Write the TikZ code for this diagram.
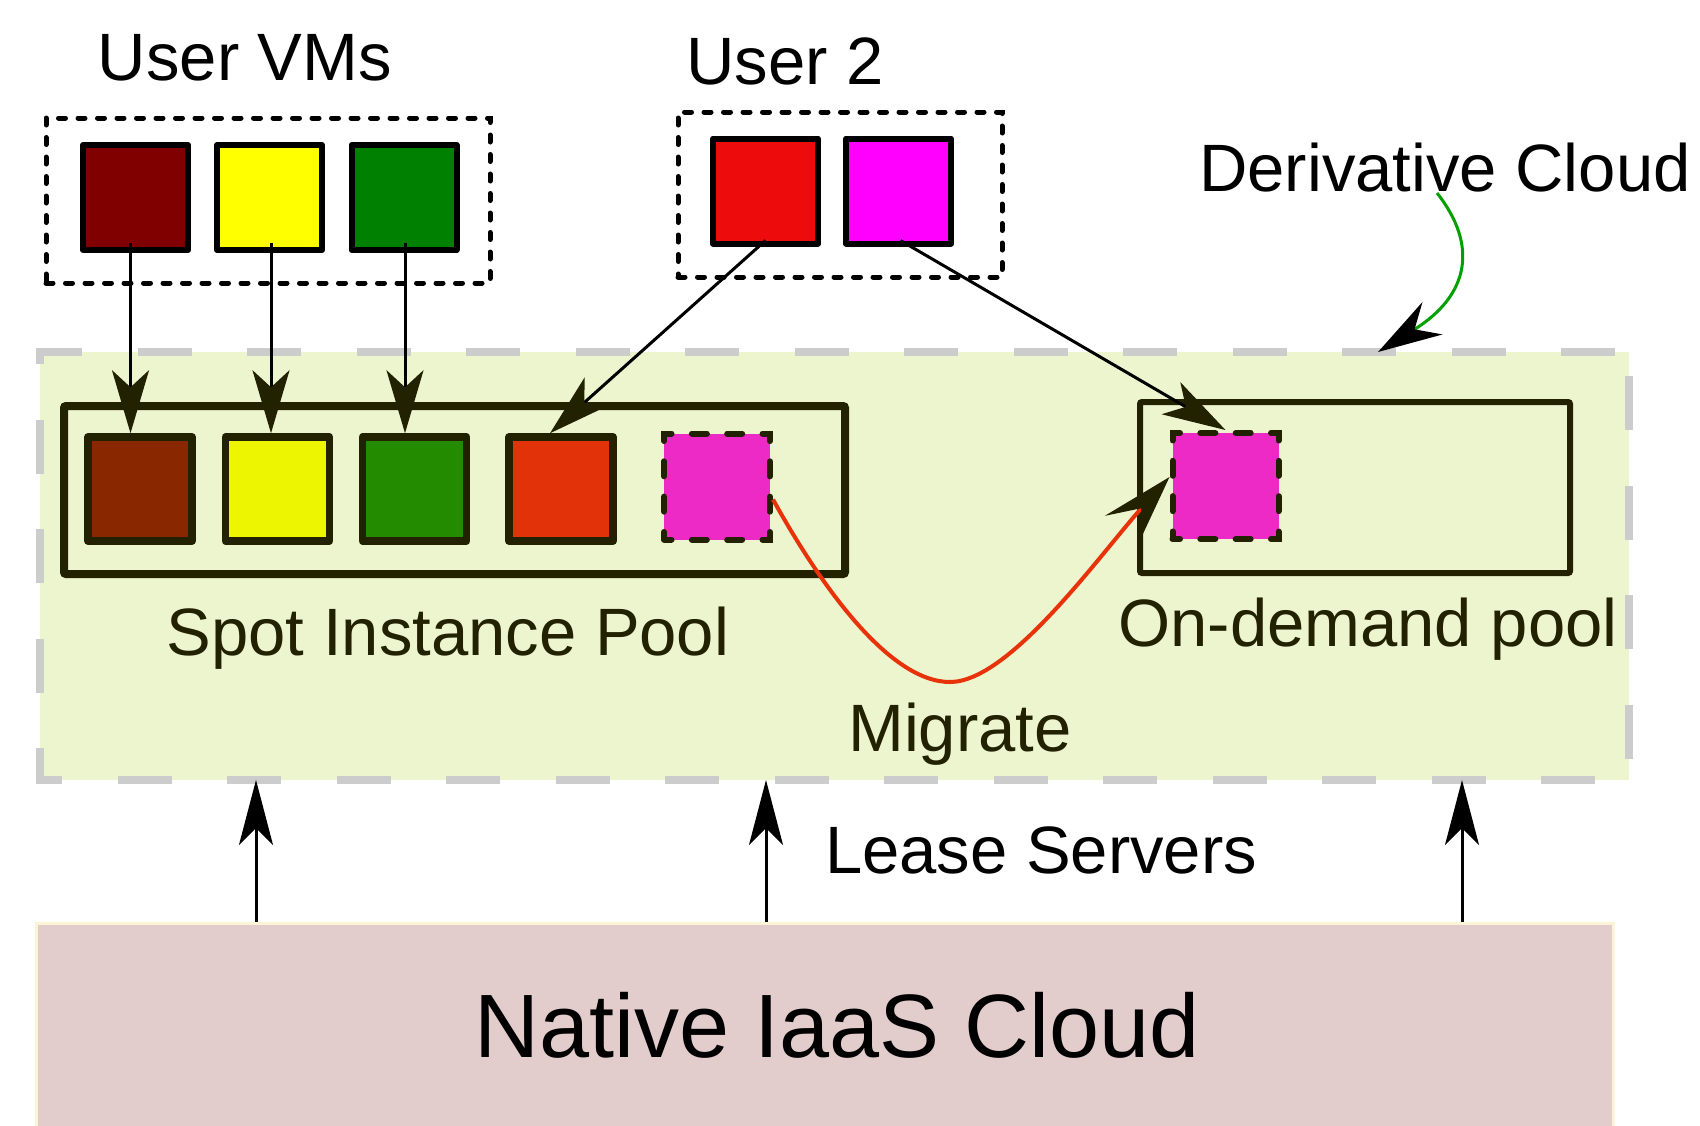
\documentclass[tikz,border=0pt]{standalone}
\usepackage{fontspec}
\setmainfont{Liberation Sans}
\usetikzlibrary{arrows.meta}

\definecolor{dolive}{HTML}{222200}
\definecolor{derivbg}{HTML}{EDF5CF}
\definecolor{dashgray}{HTML}{CCCCCC}
\definecolor{nativebg}{HTML}{E3CCCC}
\definecolor{nativeedge}{HTML}{FBF4D6}
\definecolor{vmmaroon}{HTML}{800000}
\definecolor{vmyellow}{HTML}{FFFF00}
\definecolor{vmgreen}{HTML}{008000}
\definecolor{vmred}{HTML}{EE0B0B}
\definecolor{vmmagenta}{HTML}{FF00FF}
\definecolor{spbrown}{HTML}{892800}
\definecolor{spyellow}{HTML}{EEF500}
\definecolor{spgreen}{HTML}{228B00}
\definecolor{sporange}{HTML}{E13209}
\definecolor{spmagenta}{HTML}{EE2AC6}
\definecolor{migred}{HTML}{E8320A}
\definecolor{ptrgreen}{HTML}{00A000}

\begin{document}
\begin{tikzpicture}[x=1pt,y=-1pt,
    txt/.style={inner sep=0pt,anchor=base,font=\fontsize{67}{80}\selectfont},
    dotbox/.style={draw=black,line width=5pt,line cap=round,dash pattern=on 7pt off 12.5pt,inner sep=0pt},
    vm/.style={draw=black,line width=6pt,line join=round,minimum size=105pt,inner sep=0pt},
    spot/.style={draw=dolive,line width=7.5pt,line join=round,minimum size=104pt,inner sep=0pt},
    moved/.style={fill=spmagenta,draw=dolive,line width=6pt,line cap=round,dash pattern=on 15pt off 20.33pt,dash phase=7.5pt,minimum size=106pt,inner sep=0pt},
    pool/.style={draw=dolive,rounded corners=2pt,inner sep=0pt},
    feed/.style={draw=black,line width=3pt,-{Stealth[length=63pt,width=37pt,inset=17pt,color=dolive]}},
    lease/.style={draw=black,line width=3pt,-{Stealth[length=65pt,width=34pt,inset=17pt]}}]
  \useasboundingbox (0,0) rectangle (1700,1125);

  % Derivative cloud area
  \node[fill=derivbg,minimum width=1589pt,minimum height=428pt,inner sep=0pt,outer sep=0pt] (dc) at (834.5,566) {};
  \draw[dashgray,line width=8pt,dash pattern=on 54pt off 55.5pt,dash phase=95.5pt]
    (dc.north east) -- (dc.north west) -- (dc.south west) -- (dc.south east) -- cycle;

  % Native cloud
  \node[fill=nativebg,draw=nativeedge,line width=3pt,minimum width=1577pt,minimum height=217pt,inner sep=0pt] (nat) at (824.5,1031.5) {};

  % User VM groups
  \node[dotbox,minimum width=444pt,minimum height=165pt] (usrbox) at (268,200.5) {};
  \node[dotbox,minimum width=324pt,minimum height=165pt] (usr2box) at (840,194.5) {};
  \node[vm,fill=vmmaroon] (vm1) at (135.5,197.5) {};
  \node[vm,fill=vmyellow] (vm2) at (269.5,197.5) {};
  \node[vm,fill=vmgreen] (vm3) at (404,197.5) {};
  \node[vm,fill=vmred] (vm4) at (765.5,191) {};
  \node[vm,fill=vmmagenta] (vm5) at (898.5,191) {};

  % Pools
  \node[pool,line width=8pt,minimum width=781pt,minimum height=168pt] (sppool) at (454.5,490) {};
  \node[pool,line width=6pt,minimum width=430pt,minimum height=171pt] (odpool) at (1355,487.5) {};
  \node[spot,fill=spbrown] (sp1) at (140,489) {};
  \node[spot,fill=spyellow] (sp2) at (277.5,489) {};
  \node[spot,fill=spgreen] (sp3) at (414.5,489) {};
  \node[spot,fill=sporange] (sp4) at (561,489) {};
  \node[moved] (spm) at (717,486.5) {};
  \node[moved] (odm) at (1225.5,486) {};

  % Labels
  \node[txt] (usrvms) at (245,80) {User VMs};
  \node[txt] (usr2) at (785,84) {User 2};
  \node[txt] (dcl) at (1445,191) {Derivative Cloud};
  \node[txt,text=dolive] (splbl) at (448,655) {Spot Instance Pool};
  \node[txt,text=dolive] (odlbl) at (1368,646) {On-demand pool};
  \node[txt,text=dolive] (miglbl) at (960,751) {Migrate};
  \node[txt] (lease) at (1041,873) {Lease Servers};
  \node[txt,font=\fontsize{90}{100}\selectfont] (natlbl) at (837,1057) {Native IaaS Cloud};

  % VMs placed in pools
  \foreach \a/\b/\dx in {vm1/sp1/-5,vm2/sp2/1.5,vm3/sp3/1}
    \draw[feed] ([xshift=\dx pt,yshift=10pt]\a.south) -- ([xshift=\dx pt]\a.south |- \b.north);
  \draw[feed] ([yshift=6pt]vm4.south) -- ([xshift=-11pt]sp4.north);
  \draw[feed] ([xshift=2pt,yshift=6pt]vm5.south) -- (odm.north);

  % Migration
  \draw[migred,line width=4pt,-{Stealth[length=72pt,width=44pt,inset=30pt,color=dolive]}]
    ([yshift=-13pt]spm.east) .. controls (822,588) and (890,682) .. (950,682)
    .. controls (1010,682) and (1101,553) .. ([yshift=9pt]odm.west);

  % Pointer to derivative cloud
  \draw[ptrgreen,line width=3pt,-{Stealth[length=64pt,width=38pt,inset=21pt,color=black]}]
    ([xshift=-8pt,yshift=-2pt]dcl.base) .. controls (1478,245) and (1470,295) .. (dc.north -| 1378,0);

  % Lease servers
  \foreach \x in {256,766,1462}
    \draw[lease] (nat.north -| \x,0) -- (dc.south -| \x,0);
\end{tikzpicture}
\end{document}
